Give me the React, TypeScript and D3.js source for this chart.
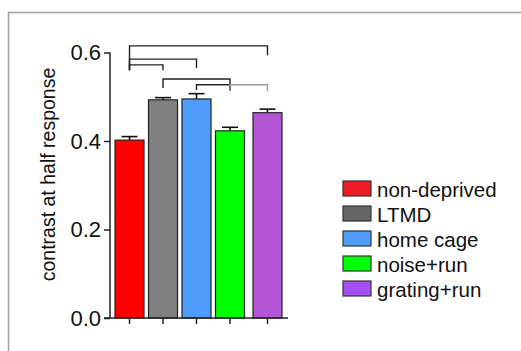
import React, { useEffect, useRef } from 'react';
import * as d3 from 'd3';

const groups = ['non-deprived', 'LTMD', 'home cage', 'noise+run', 'grating+run'];
const means = [0.402, 0.493, 0.495, 0.423, 0.464];
const sems = [0.008, 0.005, 0.012, 0.008, 0.008];
const barColors = ['#ff0000', '#808080', '#4f9cf9', '#00ff00', '#b455d6'];
const legendColors = ['#ed1c24', '#666666', '#4f9cf9', '#00ff00', '#a64ff5'];
const yTicks = [0, 0.2, 0.4, 0.6];

// significance brackets: from, to, bar height, left leg end, right leg end
const brackets: [number, number, number, number, number, string][] = [
  [0, 4, 0.615, 0.56, 0.594, '#222'],
  [0, 2, 0.585, 0.56, 0.565, '#222'],
  [0, 1, 0.572, 0.56, 0.56, '#222'],
  [1, 3, 0.54, 0.52, 0.513, '#222'],
  [2, 3, 0.527, 0.515, 0.513, '#222'],
  [3, 4, 0.527, 0.513, 0.513, '#999'],
];

const App: React.FC = () => {
  const svgRef = useRef<SVGSVGElement>(null);

  useEffect(() => {
    if (!svgRef.current) return;
    const svg = d3.select(svgRef.current);
    svg.selectAll('*').remove();

    const font = '"Liberation Sans", Arial, sans-serif';

    // frame (only top and left edges show)
    svg.append('path')
      .attr('d', 'M8.5,351 V12.5 H521')
      .attr('fill', 'none')
      .attr('stroke', '#a0a0a0')
      .attr('stroke-width', 1.5);

    const y = d3.scaleLinear().domain([0, 0.6]).range([318, 52.5]);
    const band = d3.scaleBand<string>()
      .domain(groups)
      .range([115, 278])
      .paddingInner(0.134)
      .paddingOuter(0);
    const extraGap = 4; // grating+run sits a bit further right
    const xLeft = (i: number) => (band(groups[i]) as number) + (i === 4 ? extraGap : 0);
    const xMid = (i: number) => xLeft(i) + band.bandwidth() / 2;

    // error bars
    const eb = svg.append('g').attr('stroke', '#111').attr('stroke-width', 1.6);
    means.forEach((m, i) => {
      eb.append('line')
        .attr('x1', xMid(i)).attr('x2', xMid(i))
        .attr('y1', y(m)).attr('y2', y(m + sems[i]));
      eb.append('line')
        .attr('x1', xMid(i) - 8).attr('x2', xMid(i) + 8)
        .attr('y1', y(m + sems[i])).attr('y2', y(m + sems[i]));
    });

    // bars
    svg.append('g')
      .selectAll('rect')
      .data(means)
      .join('rect')
      .attr('x', (_, i) => xLeft(i))
      .attr('y', (d) => y(d))
      .attr('width', band.bandwidth())
      .attr('height', (d) => y(0) - y(d))
      .attr('fill', (_, i) => barColors[i])
      .attr('stroke', '#222')
      .attr('stroke-width', 1.2);

    // y axis
    const yAxis = svg.append('g')
      .attr('transform', 'translate(110,0)')
      .call(d3.axisLeft(y).tickValues(yTicks).tickFormat(d3.format('.1f')).tickSize(6).tickPadding(3));
    yAxis.select('.domain').attr('stroke', '#222').attr('stroke-width', 1.5).attr('d', `M0,${y(0)}V${y(0.6)}`);
    yAxis.selectAll('.tick line').attr('stroke', '#222').attr('stroke-width', 1.5);
    yAxis.selectAll('.tick text')
      .attr('font-family', font)
      .attr('font-size', 22)
      .attr('fill', '#111');

    // x axis
    const xAxisG = svg.append('g').attr('stroke', '#222').attr('stroke-width', 1.5);
    xAxisG.append('line').attr('x1', 104).attr('x2', 288).attr('y1', y(0)).attr('y2', y(0));
    groups.forEach((_, i) => {
      xAxisG.append('line')
        .attr('x1', xMid(i)).attr('x2', xMid(i))
        .attr('y1', y(0)).attr('y2', y(0) + 6);
    });

    // y label
    svg.append('text')
      .attr('transform', 'translate(55,174.5) rotate(-90)')
      .attr('text-anchor', 'middle')
      .attr('font-family', font)
      .attr('font-size', 19.5)
      .attr('fill', '#111')
      .text('contrast at half response');

    // significance brackets
    brackets.forEach(([a, b, top, l, r, col]) => {
      svg.append('path')
        .attr('d', `M${xMid(a)},${y(l)} V${y(top)} H${xMid(b)} V${y(r)}`)
        .attr('fill', 'none')
        .attr('stroke', col)
        .attr('stroke-width', 1.4);
    });

    // legend
    const lg = svg.append('g').attr('transform', 'translate(343,181)');
    groups.forEach((g, i) => {
      lg.append('rect')
        .attr('x', 0).attr('y', i * 25)
        .attr('width', 28).attr('height', 15)
        .attr('fill', legendColors[i])
        .attr('stroke', '#333')
        .attr('stroke-width', 1.2);
      lg.append('text')
        .attr('x', 34).attr('y', i * 25 + 15.5)
        .attr('font-family', font)
        .attr('font-size', 20.5)
        .attr('fill', '#111')
        .text(g);
    });
  }, []);

  return (
    <svg
      ref={svgRef}
      width={521}
      height={351}
      style={{ position: 'absolute', left: 0, top: 0, background: '#fff' }}
    />
  );
};

export default App;
